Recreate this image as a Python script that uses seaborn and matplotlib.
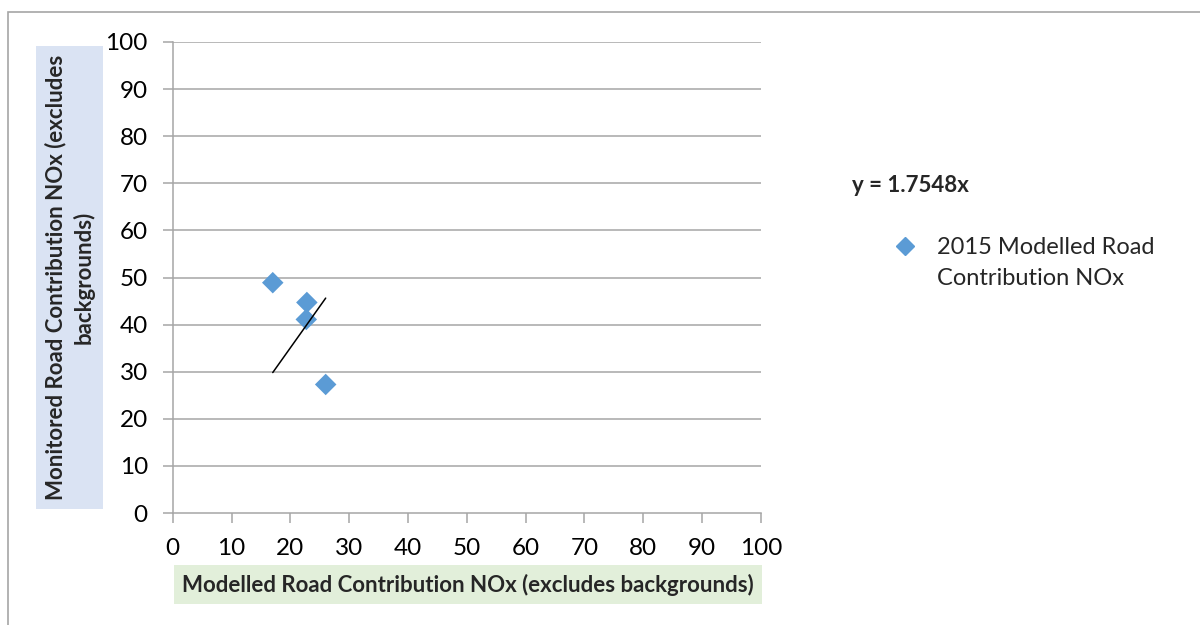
import matplotlib
matplotlib.use("Agg")
import matplotlib.pyplot as plt
import seaborn as sns
import numpy as np
import pandas as pd
from matplotlib.lines import Line2D
from matplotlib.patches import Rectangle

# values
modelled = [17.0, 22.8, 22.7, 26.0]
monitored = [48.9, 44.7, 41.1, 27.3]
slope = 1.7548
series_name = "2015 Modelled Road\nContribution NOx"
x_title = "Modelled Road Contribution NOx (excludes backgrounds)"
y_title = "Monitored Road Contribution NOx (excludes\nbackgrounds)"
ticks = list(range(0, 101, 10))

df = pd.DataFrame({"modelled": modelled, "monitored": monitored})

sns.set_style("white")
plt.rcParams["font.family"] = ["Lato", "DejaVu Sans"]

fig = plt.figure(figsize=(12, 6.25), dpi=100)
ax = fig.add_axes([0.144, 0.179, 0.490, 0.754])

# outer chart border
fig.add_artist(Rectangle((0.0067, -0.05), 1.1, 1.031, transform=fig.transFigure,
                         fill=False, edgecolor="#A6A6A6", linewidth=1.2))

grid_col = "#A6A6A6"
for t in ticks[1:]:
    ax.axhline(t, color=grid_col, linewidth=1.1, zorder=0)

sns.scatterplot(data=df, x="modelled", y="monitored", ax=ax, marker="D",
                s=120, color="#5B9BD5", edgecolor="none", zorder=3, legend=False)

# linear trendline through origin, drawn over the span of the data
trend_x = np.array([min(modelled), max(modelled)])
sns.lineplot(x=trend_x, y=slope * trend_x, ax=ax, color="black", linewidth=1.1, zorder=4)

ax.set_xlim(0, 100)
ax.set_ylim(0, 100)
ax.set_xticks(ticks)
ax.set_yticks(ticks)
ax.tick_params(axis="both", direction="out", length=7, width=1.1, color=grid_col,
               labelsize=17.5, labelcolor="black")
ax.tick_params(axis="y", pad=11)
ax.tick_params(axis="x", pad=11)
ax.xaxis.set_ticks_position("bottom")
ax.yaxis.set_ticks_position("left")
for side in ["top", "right"]:
    ax.spines[side].set_visible(False)
for side in ["left", "bottom"]:
    ax.spines[side].set_color(grid_col)
    ax.spines[side].set_linewidth(1.1)

ax.set_xlabel(x_title, fontsize=16, fontweight="bold",
              bbox=dict(facecolor="#E2EFDA", edgecolor="none", pad=6))
ax.xaxis.set_label_coords(0.502, -0.128)
ax.set_ylabel(y_title, fontsize=16, fontweight="bold", linespacing=1.35,
              multialignment="center",
              bbox=dict(facecolor="#DAE3F3", edgecolor="none", pad=6))
ax.yaxis.set_label_coords(-0.133, 0.5)

# trendline equation and legend
fig.text(0.710, 0.703, "y = 1.7548x", fontsize=16, fontweight="bold",
         ha="left", va="center")
fig.add_artist(Line2D([0.754], [1 - 246 / 625], transform=fig.transFigure,
                      marker="D", markersize=9, color="#5B9BD5", linestyle="none"))
fig.text(0.781, 1 - 246 / 625 + 0.015, series_name, fontsize=17, ha="left",
         va="top", linespacing=1.62)

fig.savefig("out.png", dpi=100)
